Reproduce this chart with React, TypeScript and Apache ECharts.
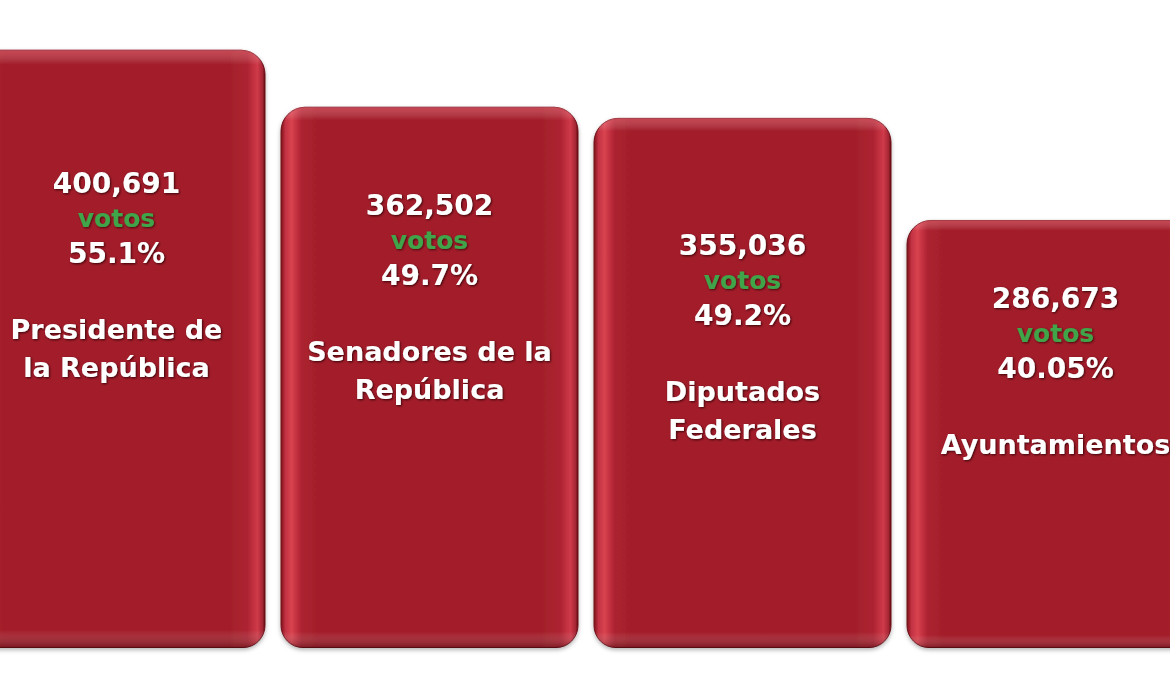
import React, { useEffect, useRef } from "react";
import * as echarts from "echarts";

const categories = ["Presidente de\nla República", "Senadores de la\nRepública", "Diputados\nFederales", "Ayuntamientos"];
const votes = [400691, 362502, 355036, 286673];
const voteLabels = ["400,691", "362,502", "355,036", "286,673"];
const percents = ["55.1%", "49.7%", "49.2%", "40.05%"];
const labelDistances = [116, 81, 110, 61];

export default function App() {
  const ref = useRef<HTMLDivElement>(null);
  useEffect(() => {
    document.body.style.margin = "0";
    const chart = echarts.init(ref.current!, null, { renderer: "svg" });
    const font = "'DejaVu Sans', Verdana, sans-serif";
    const txt = {
      fontFamily: font,
      fontWeight: "bold",
      color: "#ffffff",
      textShadowColor: "rgba(40,0,0,0.85)",
      textShadowBlur: 2,
      textShadowOffsetX: 1,
      textShadowOffsetY: 1,
    };
    const baseGradient = new echarts.graphic.LinearGradient(0, 0, 1, 0, [
      { offset: 0, color: "#7e1019" },
      { offset: 0.015, color: "#c23342" },
      { offset: 0.035, color: "#d9434f" },
      { offset: 0.07, color: "#ac2130" },
      { offset: 0.12, color: "#a31f2b" },
      { offset: 0.88, color: "#a31f2b" },
      { offset: 0.94, color: "#ad2331" },
      { offset: 0.975, color: "#cf3a49" },
      { offset: 0.992, color: "#a42634" },
      { offset: 1, color: "#5e0b12" },
    ]);
    const overlayGradient = new echarts.graphic.LinearGradient(0, 0, 0, 1, [
      { offset: 0, color: "rgba(255,130,140,0.4)" },
      { offset: 0.025, color: "rgba(255,255,255,0)" },
      { offset: 0.97, color: "rgba(255,255,255,0)" },
      { offset: 1, color: "rgba(50,0,5,0.4)" },
    ]);
    chart.setOption({
      animation: false,
      backgroundColor: "#ffffff",
      grid: { left: 0, right: 0, top: 0, bottom: 52, containLabel: false },
      xAxis: { type: "category", data: categories, show: false },
      yAxis: { type: "value", min: 0, max: 434000, show: false, splitLine: { show: false } },
      series: [
        {
          type: "bar",
          data: votes,
          barWidth: 298,
          silent: true,
          itemStyle: {
            color: baseGradient,
            borderRadius: [24, 24, 22, 22],
            borderColor: "#6e1019",
            borderWidth: 1,
            shadowBlur: 4,
            shadowColor: "rgba(0,0,0,0.3)",
            shadowOffsetY: 2,
          },
        },
        {
          type: "bar",
          barGap: "-100%",
          barWidth: 298,
          silent: true,
          data: votes.map((v, i) => ({
            value: v,
            label: {
              show: true,
              position: "insideTop",
              distance: labelDistances[i],
              formatter:
                `{n|${voteLabels[i]}}\n{v|votos}\n{n|${percents[i]}}\n{g| }\n` +
                categories[i].split("\n").map((c) => `{c|${c}}`).join("\n"),
              rich: {
                n: { ...txt, fontSize: 28, lineHeight: 35 },
                v: { ...txt, color: "#3fa44a", fontSize: 25, lineHeight: 35, textShadowColor: "rgba(30,0,0,0.7)" },
                g: { fontSize: 10, lineHeight: 40 },
                c: { ...txt, fontSize: 27, lineHeight: 38 },
              },
            },
          })),
          itemStyle: {
            color: overlayGradient,
            borderRadius: [24, 24, 22, 22],
          },
        },
      ],
    });
    return () => chart.dispose();
  }, []);
  return (
    <div style={{ width: 1170, height: 700, overflow: "hidden", position: "relative" }}>
      <div ref={ref} style={{ position: "absolute", left: -40.5, top: 0, width: 1252, height: 700 }} />
    </div>
  );
}
